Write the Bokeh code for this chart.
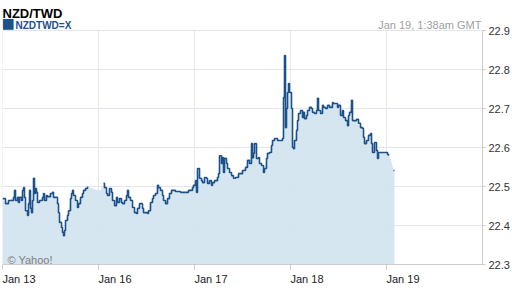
import math
from bokeh.plotting import figure
from bokeh.models import FixedTicker, Label, Range1d
from bokeh.embed import file_html
from bokeh.resources import INLINE

# 15-minute bar index since Jan 13 00:00 (96 bars per trading day), price, traded flag (0 = no trades, area only)
bars = [0, 3, 6, 11, 12, 13, 15, 16, 17, 19, 20, 21, 22, 23, 25, 26, 27, 28, 29, 30,
        31, 32, 33, 34, 35, 37, 40, 41, 42, 44, 45, 48, 50, 51, 53, 55, 56, 57, 59, 60,
        61, 62, 63, 65, 66, 68, 69, 70, 71, 73, 75, 76, 78, 80, 81, 83, 85,
        88, 93, 98,
        101, 102, 104, 105, 107, 109, 110, 112, 114, 115, 117, 119, 120, 122, 124, 125, 126, 128, 130, 132,
        134, 135, 137, 140, 141, 143, 145, 146, 148, 150, 151, 153, 155, 156, 158, 160, 161, 163, 165, 167,
        169, 173, 178, 183, 186, 190, 191, 193, 194, 195, 197, 199, 200, 202, 204, 205, 207, 209, 210, 212,
        215, 216, 217, 219, 220, 221, 222, 224, 225, 227, 229, 231, 233, 236, 240, 243, 245, 247, 249, 250,
        251, 252, 254, 256, 257, 259, 261, 262, 264, 265, 267, 269, 270, 272, 275, 278, 280, 281, 282, 283,
        284, 285, 286,
        287, 289,
        290, 291, 292, 294, 295, 296, 298, 300, 301, 302, 304, 305, 307, 309, 310, 312, 314, 315, 316, 318,
        320, 321, 323, 325, 327, 330, 331, 333, 335, 336, 338, 340, 341, 343, 345, 346, 347, 349, 350, 351,
        354, 356, 358, 360, 361, 362, 364, 366, 368, 369, 370, 372, 374, 375, 376,
        380, 385,
        386, 388, 390, 391, 392]
prices = [22.469, 22.456, 22.464, 22.472, 22.490, 22.464, 22.472, 22.459, 22.472, 22.464, 22.490, 22.497, 22.472, 22.438, 22.426, 22.456, 22.490, 22.444, 22.433, 22.464,
          22.521, 22.482, 22.495, 22.485, 22.459, 22.464, 22.472, 22.482, 22.464, 22.477, 22.474, 22.482, 22.485, 22.472, 22.472, 22.456, 22.433, 22.408, 22.395, 22.382,
          22.374, 22.387, 22.413, 22.426, 22.438, 22.469, 22.482, 22.490, 22.477, 22.464, 22.446, 22.456, 22.472, 22.482, 22.490, 22.495, 22.500,
          22.497, 22.492, 22.490,
          22.508, 22.497, 22.482, 22.477, 22.495, 22.485, 22.464, 22.451, 22.472, 22.459, 22.469, 22.459, 22.456, 22.464, 22.477, 22.490, 22.472, 22.464, 22.446, 22.433,
          22.431, 22.444, 22.456, 22.444, 22.433, 22.433, 22.431, 22.438, 22.459, 22.469, 22.477, 22.482, 22.503, 22.497, 22.490, 22.477, 22.464, 22.456, 22.469, 22.482,
          22.490, 22.487, 22.485, 22.485, 22.490, 22.497, 22.503, 22.515, 22.485, 22.546, 22.521, 22.515, 22.510, 22.523, 22.521, 22.508, 22.515, 22.503, 22.510, 22.515,
          22.523, 22.533, 22.579, 22.559, 22.574, 22.536, 22.572, 22.559, 22.546, 22.536, 22.528, 22.521, 22.523, 22.533, 22.541, 22.549, 22.567, 22.559, 22.610, 22.574,
          22.585, 22.610, 22.572, 22.574, 22.559, 22.554, 22.536, 22.546, 22.572, 22.585, 22.587, 22.605, 22.618, 22.623, 22.618, 22.618, 22.623, 22.728, 22.836, 22.651,
          22.700, 22.741, 22.764,
          22.741, 22.700,
          22.600, 22.597, 22.618, 22.644, 22.669, 22.687, 22.695, 22.677, 22.690, 22.674, 22.682, 22.695, 22.703, 22.700, 22.690, 22.687, 22.695, 22.726, 22.695, 22.687,
          22.708, 22.703, 22.700, 22.708, 22.703, 22.715, 22.713, 22.713, 22.703, 22.708, 22.682, 22.695, 22.677, 22.669, 22.656, 22.682, 22.690, 22.721, 22.669, 22.669,
          22.672, 22.662, 22.651, 22.649, 22.626, 22.610, 22.618, 22.631, 22.636, 22.610, 22.587, 22.613, 22.592, 22.572, 22.587,
          22.587, 22.582,
          22.579, 22.572, 22.554, 22.541, 22.541]
traded = [1] * 57 + [0] * 3 + [1] * 163 + [0] * 2 + [1] * 86 + [0] * 2 + [1] * 5

day_ticks = [0, 1, 2, 3, 4]
day_labels = ["Jan 13", "Jan 16", "Jan 17", "Jan 18", "Jan 19"]
price_ticks = [22.3, 22.4, 22.5, 22.6, 22.7, 22.8, 22.9]

x = [b / 96 for b in bars]
y_line = [p if t else math.nan for p, t in zip(prices, traded)]

FONT = "Liberation Sans"
LINE = "#1d518a"
GRID = "#e3e7ec"
AXIS = "#cccccc"

y0, y1 = price_ticks[0], price_ticks[-1]
# frame reaches the top of the canvas so the header texts can sit inside it
top = y1 + (y1 - y0) * 30 / 234

p = figure(width=512, height=288, x_range=Range1d(0, 5), y_range=Range1d(y0, top),
           y_axis_location="right", toolbar_location=None, output_backend="svg",
           min_border_left=2, min_border_right=29, min_border_top=0, min_border_bottom=24)
p.background_fill_color = "white"
p.border_fill_color = "white"
p.outline_line_color = None

# vertical grid lines limited to the data band
p.segment(x0=day_ticks, y0=y0, x1=day_ticks, y1=y1, line_color=GRID, line_width=1)

p.varea(x=x, y1=y0, y2=prices, fill_color="#d1e3ef", fill_alpha=0.9)
p.step(x=x, y=y_line, mode="after", line_color=LINE, line_width=1.6)

# x axis: labels placed just right of each day tick; day ticks drawn as minor ticks
shift = 11 / 64
lab_ticks = [d + shift for d in day_ticks]
p.xaxis.ticker = FixedTicker(ticks=lab_ticks, minor_ticks=day_ticks)
p.xaxis.major_label_overrides = {t: l for t, l in zip(lab_ticks, day_labels)}
p.xaxis.major_label_text_font = FONT
p.xaxis.major_label_text_font_size = "11px"
p.xaxis.major_label_text_color = "#222222"
p.xaxis.major_label_standoff = 3
p.xaxis.major_tick_line_color = None
p.xaxis.major_tick_out = 0
p.xaxis.major_tick_in = 0
p.xaxis.minor_tick_line_color = AXIS
p.xaxis.minor_tick_out = 5
p.xaxis.minor_tick_in = 0
p.xaxis.axis_line_color = AXIS

p.yaxis.ticker = FixedTicker(ticks=price_ticks)
p.yaxis.bounds = (y0, y1)
p.yaxis.major_label_overrides = {t: f"{t:.1f}" for t in price_ticks}
p.yaxis.major_label_text_font = FONT
p.yaxis.major_label_text_font_size = "11px"
p.yaxis.major_label_text_color = "#333333"
p.yaxis.major_label_standoff = 3
p.yaxis.major_tick_out = 3
p.yaxis.major_tick_in = 0
p.yaxis.minor_tick_line_color = None
p.yaxis.axis_line_color = AXIS
p.yaxis.major_tick_line_color = AXIS

p.xgrid.visible = False
p.ygrid.ticker = FixedTicker(ticks=price_ticks)
p.ygrid.grid_line_color = GRID

p.add_layout(Label(x=0, y=y1, text="NZD/TWD", x_offset=0, y_offset=17,
                   text_font=FONT, text_font_size="13px", text_font_style="bold",
                   text_color="#000000", text_align="left", text_baseline="alphabetic"))
p.add_layout(Label(x=0, y=y1, text="\u25a0", x_offset=-1, y_offset=8,
                   text_font="DejaVu Sans", text_font_size="14px",
                   text_color=LINE, text_align="left", text_baseline="alphabetic"))
p.add_layout(Label(x=0, y=y1, text="NZDTWD=X", x_offset=13, y_offset=5,
                   text_font=FONT, text_font_size="10px", text_font_style="bold",
                   text_color=LINE, text_align="left", text_baseline="alphabetic"))
p.add_layout(Label(x=5, y=y1, text="Jan 19, 1:38am GMT", x_offset=-1, y_offset=6,
                   text_font=FONT, text_font_size="11px",
                   text_color="#a0a0a0", text_align="right", text_baseline="alphabetic"))
p.add_layout(Label(x=0, y=y0, text="\u00a9 Yahoo!", x_offset=5, y_offset=5,
                   text_font=FONT, text_font_size="11px",
                   text_color="#7f7f7f", text_align="left", text_baseline="alphabetic"))

open("out.html", "w").write(file_html(p, INLINE))
